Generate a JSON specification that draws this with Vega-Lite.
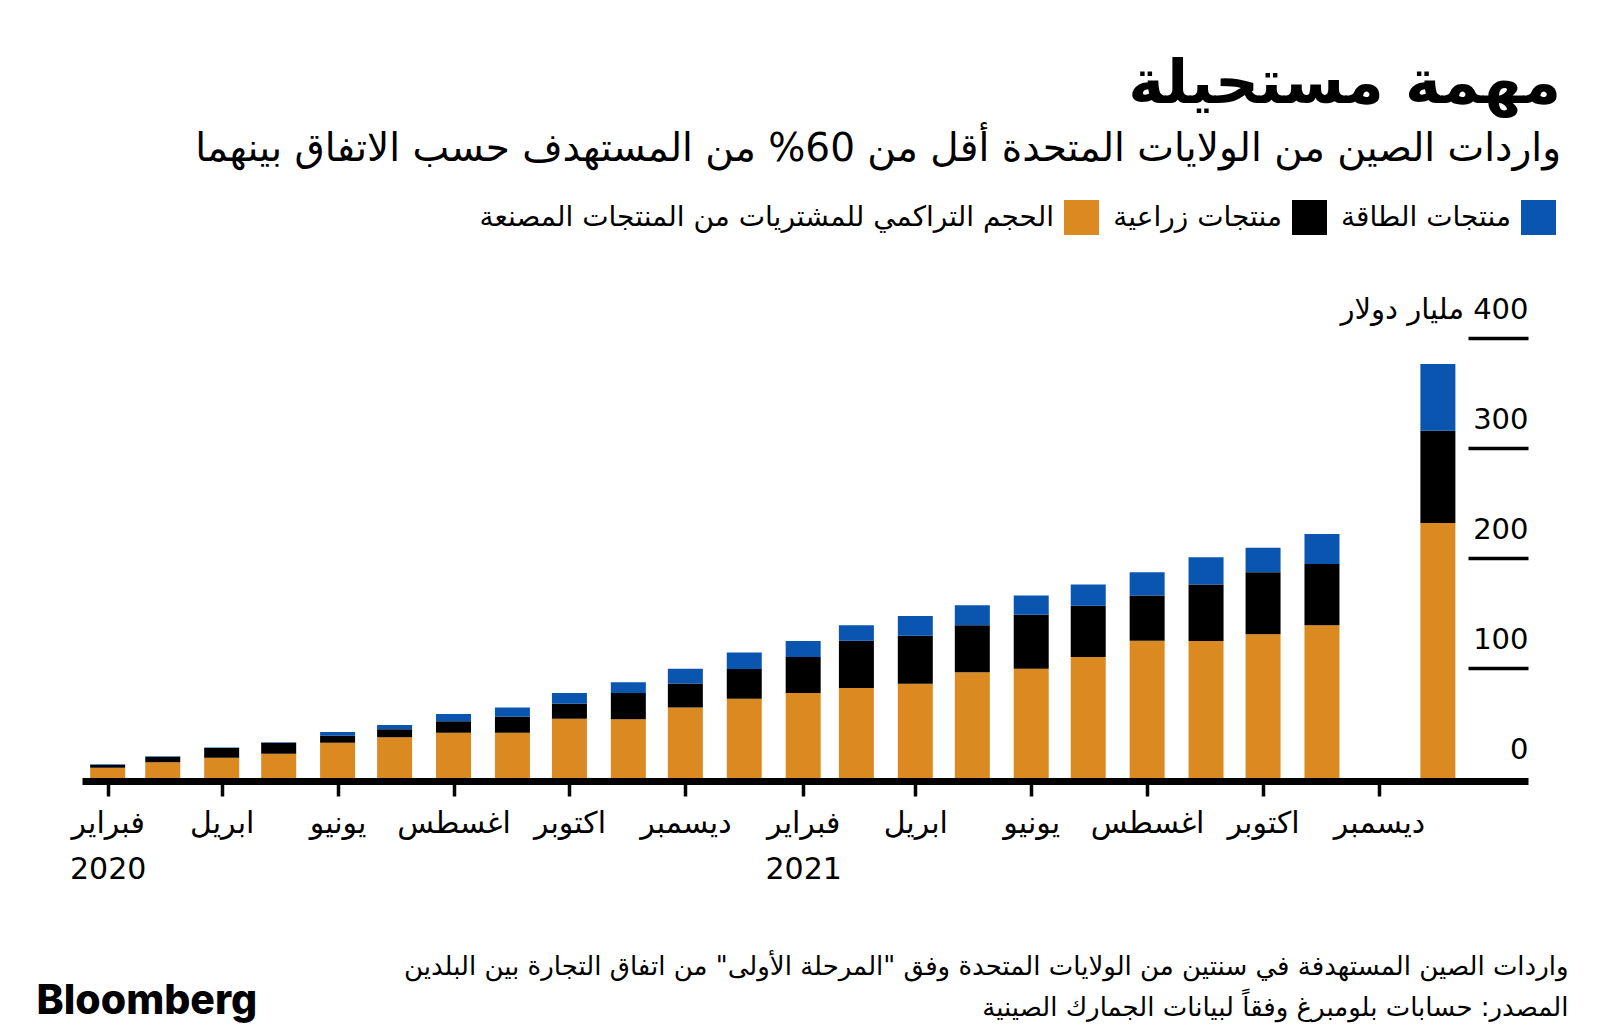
{
  "$schema": "https://vega.github.io/schema/vega-lite/v6.json",
  "width": 1446,
  "height": 440,
  "autosize": {"type": "none"},
  "padding": {"left": 82, "top": 338, "right": 72, "bottom": 258},
  "background": "white",
  "config": {"view": {"stroke": null}, "font": "DejaVu Sans"},
  "title": {
    "text": "مهمة مستحيلة",
    "subtitle": "واردات الصين من الولايات المتحدة أقل من 60% من المستهدف حسب الاتفاق بينهما",
    "anchor": "end",
    "frame": "group",
    "dx": 33,
    "offset": 30,
    "font": "DejaVu Sans",
    "fontSize": 61,
    "fontWeight": "bold",
    "color": "black",
    "subtitleFont": "DejaVu Sans",
    "subtitleFontSize": 39,
    "subtitleColor": "black",
    "subtitlePadding": 14
  },
  "data": {
    "values": [
      {"month": "2020-02-01", "manufactured": 9.4, "farm": 2.7, "energy": 0.3},
      {"month": "2020-03-01", "manufactured": 14.3, "farm": 5.1, "energy": 0.3},
      {"month": "2020-04-01", "manufactured": 18.5, "farm": 8.8, "energy": 0.4},
      {"month": "2020-05-01", "manufactured": 22.1, "farm": 10.0, "energy": 0.5},
      {"month": "2020-06-01", "manufactured": 32.1, "farm": 6.4, "energy": 3.3},
      {"month": "2020-07-01", "manufactured": 37.0, "farm": 7.3, "energy": 3.9},
      {"month": "2020-08-01", "manufactured": 41.2, "farm": 10.3, "energy": 6.7},
      {"month": "2020-09-01", "manufactured": 41.2, "farm": 14.5, "energy": 8.5},
      {"month": "2020-10-01", "manufactured": 53.9, "farm": 13.6, "energy": 9.8},
      {"month": "2020-11-01", "manufactured": 53.3, "farm": 24.0, "energy": 9.7},
      {"month": "2020-12-01", "manufactured": 64.2, "farm": 21.6, "energy": 13.6},
      {"month": "2021-01-01", "manufactured": 72.1, "farm": 27.0, "energy": 15.1},
      {"month": "2021-02-01", "manufactured": 77.3, "farm": 32.7, "energy": 14.5},
      {"month": "2021-03-01", "manufactured": 81.8, "farm": 43.0, "energy": 14.0},
      {"month": "2021-04-01", "manufactured": 85.7, "farm": 43.7, "energy": 17.9},
      {"month": "2021-05-01", "manufactured": 96.1, "farm": 42.7, "energy": 18.2},
      {"month": "2021-06-01", "manufactured": 99.4, "farm": 49.1, "energy": 17.5},
      {"month": "2021-07-01", "manufactured": 110.0, "farm": 46.7, "energy": 19.1},
      {"month": "2021-08-01", "manufactured": 124.7, "farm": 41.3, "energy": 21.0},
      {"month": "2021-09-01", "manufactured": 124.5, "farm": 51.5, "energy": 24.6},
      {"month": "2021-10-01", "manufactured": 130.6, "farm": 56.4, "energy": 22.4},
      {"month": "2021-11-01", "manufactured": 138.8, "farm": 55.7, "energy": 27.3},
      {"month": "2022-01-01", "manufactured": 231.8, "farm": 83.9, "energy": 60.7}
    ]
  },
  "transform": [
    {"fold": ["manufactured", "farm", "energy"], "as": ["series", "value"]}
  ],
  "mark": {"type": "bar", "width": 35},
  "encoding": {
    "x": {
      "field": "month",
      "type": "temporal",
      "scale": {
        "type": "utc",
        "padding": 0,
        "domain": [
          {"year": 2020, "month": 1, "date": 18, "hours": 12, "utc": true},
          {"year": 2022, "month": 2, "date": 17, "hours": 10, "utc": true}
        ]
      },
      "axis": {
        "values": [
          {"year": 2020, "month": 2, "date": 1, "utc": true},
          {"year": 2020, "month": 4, "date": 1, "utc": true},
          {"year": 2020, "month": 6, "date": 1, "utc": true},
          {"year": 2020, "month": 8, "date": 1, "utc": true},
          {"year": 2020, "month": 10, "date": 1, "utc": true},
          {"year": 2020, "month": 12, "date": 1, "utc": true},
          {"year": 2021, "month": 2, "date": 1, "utc": true},
          {"year": 2021, "month": 4, "date": 1, "utc": true},
          {"year": 2021, "month": 6, "date": 1, "utc": true},
          {"year": 2021, "month": 8, "date": 1, "utc": true},
          {"year": 2021, "month": 10, "date": 1, "utc": true},
          {"year": 2021, "month": 12, "date": 1, "utc": true}
        ],
        "labelExpr": "utcmonth(datum.value) == 1 ? ['فبراير', '' + utcyear(datum.value)] : utcmonth(datum.value) == 3 ? 'ابريل' : utcmonth(datum.value) == 5 ? 'يونيو' : utcmonth(datum.value) == 7 ? 'اغسطس' : utcmonth(datum.value) == 9 ? 'اكتوبر' : 'ديسمبر'",
        "title": [
          "واردات الصين المستهدفة في سنتين من الولايات المتحدة وفق \"المرحلة الأولى\" من اتفاق التجارة بين البلدين",
          "المصدر: حسابات بلومبرغ وفقاً لبيانات الجمارك الصينية"
        ],
        "titleX": 1486,
        "titleY": 193,
        "titleAlign": "right",
        "titleAnchor": "end",
        "titleBaseline": "alphabetic",
        "titleFont": "DejaVu Sans",
        "titleFontSize": 26,
        "titleFontWeight": "normal",
        "titleLineHeight": 41,
        "titleColor": "black",
        "titleLimit": 0,
        "offset": 3,
        "domainWidth": 7,
        "domainColor": "black",
        "domainCap": "butt",
        "tickSize": 15,
        "tickWidth": 3.5,
        "tickColor": "black",
        "labelFont": "DejaVu Sans",
        "labelFontSize": 30,
        "labelColor": "black",
        "labelBaseline": "alphabetic",
        "labelPadding": 36,
        "labelLineHeight": 46,
        "labelAlign": "center",
        "labelFlush": false,
        "labelOverlap": false,
        "grid": false
      }
    },
    "y": {
      "field": "value",
      "type": "quantitative",
      "stack": "zero",
      "scale": {"domain": [0, 400], "nice": false},
      "axis": {
        "orient": "right",
        "offset": -60,
        "domain": false,
        "grid": false,
        "ticks": true,
        "tickSize": 60,
        "tickWidth": 3.5,
        "tickColor": "black",
        "tickOpacity": {"condition": {"test": "datum.value == 0", "value": 0}, "value": 1},
        "values": [0, 100, 200, 300, 400],
        "labelAlign": "right",
        "labelPadding": 0,
        "labelBaseline": "alphabetic",
        "labelOffset": -20,
        "labelFont": "DejaVu Sans",
        "labelFontSize": 29,
        "labelColor": "black",
        "labelFlush": false,
        "labelOverlap": false,
        "labelLimit": 600,
        "labelExpr": "datum.value == 400 ? 'مليار دولار\u200E 400' : datum.label",
        "title": "Bloomberg",
        "titleAngle": 0,
        "titleX": -1432,
        "titleY": 675,
        "titleAlign": "left",
        "titleBaseline": "alphabetic",
        "titleFont": "Inter",
        "titleFontSize": 41,
        "titleFontWeight": 800,
        "titleColor": "black"
      }
    },
    "color": {
      "field": "series",
      "type": "nominal",
      "sort": ["manufactured", "farm", "energy"],
      "scale": {
        "domain": ["manufactured", "farm", "energy"],
        "range": ["#DB8A22", "#000000", "#0A55B0"]
      },
      "legend": {
        "orient": "none",
        "legendX": 982,
        "legendY": -138,
        "direction": "horizontal",
        "title": null,
        "symbolType": "square",
        "symbolSize": 1225,
        "symbolStrokeWidth": 0,
        "symbolOpacity": 1,
        "labelFont": "DejaVu Sans",
        "labelFontSize": 28,
        "labelColor": "black",
        "labelAlign": "right",
        "labelOffset": -45,
        "columnPadding": 14,
        "labelLimit": 1000,
        "labelExpr": "datum.label == 'manufactured' ? 'الحجم التراكمي للمشتريات من المنتجات المصنعة' : datum.label == 'farm' ? 'منتجات زراعية' : 'منتجات الطاقة'"
      }
    }
  }
}
